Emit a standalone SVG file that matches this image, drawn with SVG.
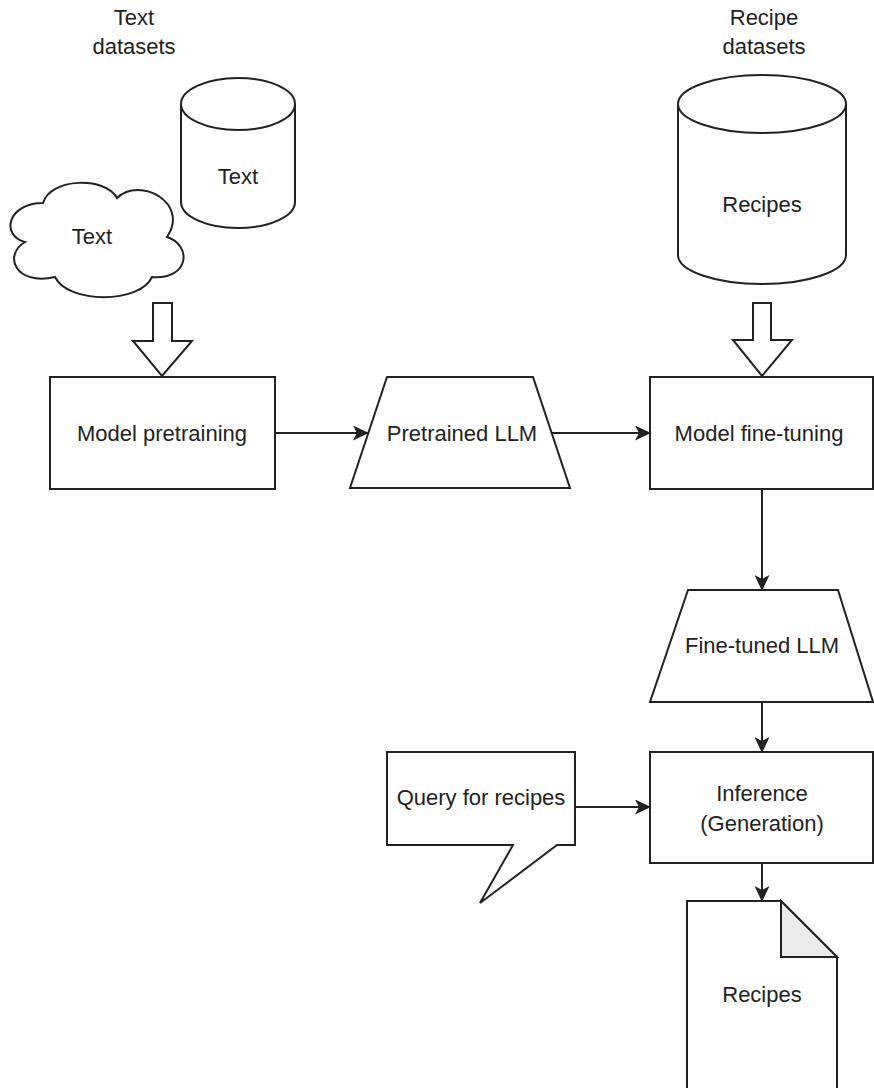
<svg xmlns="http://www.w3.org/2000/svg" width="874" height="1088" viewBox="0 0 874 1088">
  <style>
    .shape { fill: #ffffff; stroke: #222222; stroke-width: 2; stroke-linejoin: miter; }
    .fold { fill: #ebebeb; stroke: #222222; stroke-width: 2; }
    .edge { fill: none; stroke: #222222; stroke-width: 2; }
    .lbl { font-family: "Liberation Sans", Arial, sans-serif; font-size: 22px; fill: #222222; text-anchor: middle; dominant-baseline: central; }
  </style>
  <defs>
    <marker id="arrow" viewBox="0 0 16 15" refX="15" refY="7.5" markerWidth="16" markerHeight="15" markerUnits="userSpaceOnUse" orient="auto">
      <path d="M16,7.5 L0,0 L4,7.5 L0,15 Z" fill="#222222"/>
    </marker>
  </defs>
  <rect width="874" height="1088" fill="#ffffff"/>

  <!-- Section titles -->
  <g id="title-text-datasets">
    <text class="lbl" x="134" y="17">Text</text>
    <text class="lbl" x="134" y="46">datasets</text>
  </g>
  <g id="title-recipe-datasets">
    <text class="lbl" x="764" y="17">Recipe</text>
    <text class="lbl" x="764" y="46">datasets</text>
  </g>

  <!-- Text database -->
  <g id="text-db">
    <path class="shape" d="M181,104 A57,26 0 0 1 295,104 L295,202 A57,26 0 0 1 181,202 Z"/>
    <path class="edge" d="M181,104 A57,26 0 0 0 295,104"/>
    <text class="lbl" x="238" y="176">Text</text>
  </g>

  <!-- Text cloud -->
  <g id="text-cloud">
    <path class="shape" d="M25,242 C0,235 8,203 43,203 C50,178 105,176 117,198 C140,176 190,203 167,237 C192,245 190,280 152,277 C140,304 68,304 55,277 C15,286 3,255 25,242 Z"/>
    <text class="lbl" x="92" y="236">Text</text>
  </g>

  <!-- Recipe database -->
  <g id="recipe-db">
    <path class="shape" d="M678,104 A84,29 0 0 1 846,104 L846,255 A84,29 0 0 1 678,255 Z"/>
    <path class="edge" d="M678,104 A84,29 0 0 0 846,104"/>
    <text class="lbl" x="762" y="204">Recipes</text>
  </g>

  <!-- Block arrows feeding data into training -->
  <g id="feed-text">
    <path class="shape" d="M153,303 L172,303 L172,341 L192,341 L162,376 L133,341 L153,341 Z"/>
  </g>
  <g id="feed-recipes">
    <path class="shape" d="M753,303 L771,303 L771,340 L792,340 L762,376 L733,340 L753,340 Z"/>
  </g>

  <!-- Process nodes -->
  <g id="model-pretraining">
    <rect class="shape" x="50" y="377" width="225" height="112"/>
    <text class="lbl" x="162" y="433">Model pretraining</text>
  </g>
  <g id="pretrained-llm">
    <path class="shape" d="M387,377 L533,377 L570,488 L350,488 Z"/>
    <text class="lbl" x="462" y="433">Pretrained LLM</text>
  </g>
  <g id="model-finetuning">
    <rect class="shape" x="650" y="377" width="223" height="112"/>
    <text class="lbl" x="759" y="433">Model fine-tuning</text>
  </g>
  <g id="finetuned-llm">
    <path class="shape" d="M688,590 L838,590 L873,702 L650,702 Z"/>
    <text class="lbl" x="762" y="645">Fine-tuned LLM</text>
  </g>
  <g id="query">
    <path class="shape" d="M387,752 L575,752 L575,845 L557,845 L480,903 L513,845 L387,845 Z"/>
    <text class="lbl" x="481" y="797">Query for recipes</text>
  </g>
  <g id="inference">
    <rect class="shape" x="650" y="752" width="223" height="111"/>
    <text class="lbl" x="762" y="793">Inference</text>
    <text class="lbl" x="762" y="823">(Generation)</text>
  </g>
  <g id="recipes-doc">
    <path class="shape" d="M687,901 L781,901 L837,957 L837,1100 L687,1100 Z"/>
    <path class="fold" d="M781,901 L781,957 L837,957 Z"/>
    <text class="lbl" x="762" y="994">Recipes</text>
  </g>

  <!-- Connectors -->
  <g id="connectors">
    <path class="edge" d="M275,433 L368,433" marker-end="url(#arrow)"/>
    <path class="edge" d="M552,433 L650,433" marker-end="url(#arrow)"/>
    <path class="edge" d="M762,489 L762,590" marker-end="url(#arrow)"/>
    <path class="edge" d="M762,702 L762,752" marker-end="url(#arrow)"/>
    <path class="edge" d="M575,807 L650,807" marker-end="url(#arrow)"/>
    <path class="edge" d="M762,863 L762,901" marker-end="url(#arrow)"/>
  </g>
</svg>
